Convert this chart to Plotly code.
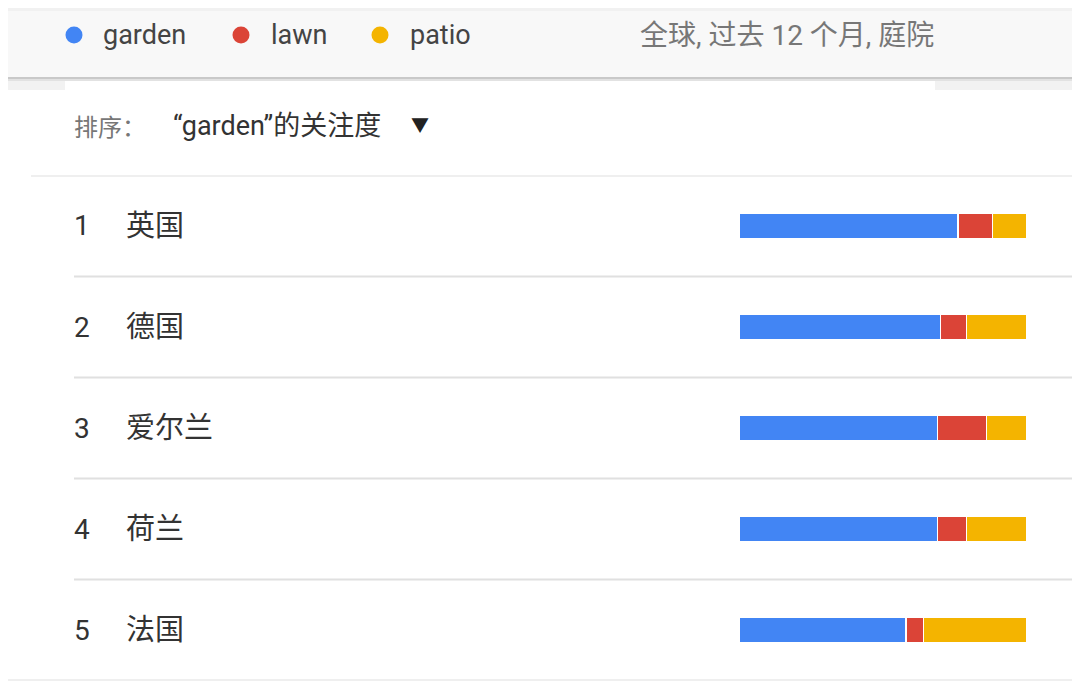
import plotly.graph_objects as go

# data (share of interest, % per region)
countries = ['英国', '德国', '爱尔兰', '荷兰', '法国']
ranks = ['1', '2', '3', '4', '5']
garden = [76, 70, 69, 69, 58]
lawn = [12, 9, 17, 10, 6]
patio = [12, 21, 14, 21, 36]

terms = ['garden', 'lawn', 'patio']
colors = ['#4285f4', '#db4437', '#f4b400']
subtitle = '全球, 过去 12 个月, 庭院'
sort_label = '排序：'
sort_value = '“garden”的关注度'

# the page body adds an 8px margin, so the figure is drawn 8px in
OFF = 8
W, H = 1080 - OFF, 693 - OFF
FONT = 'Roboto, "Noto Sans CJK SC", sans-serif'


def px(x):
    return (x - OFF) / W


def py(y):
    return 1 - (y - OFF) / H


data = []
for name, vals, col in zip(terms, [garden, lawn, patio], colors):
    data.append(go.Bar(x=vals, y=countries, orientation='h', name=name,
                       marker=dict(color=col, line=dict(color='white', width=1.5)),
                       width=0.26, showlegend=False, hoverinfo='x+name'))

shapes = []


def rect(x0, y0, x1, y1, color):
    shapes.append(dict(type='rect', xref='paper', yref='paper', layer='below',
                       x0=px(x0), x1=px(x1), y0=py(y0), y1=py(y1),
                       fillcolor=color, line=dict(width=0)))


# page background pieces
rect(0, 0, 1080, 78, '#f8f8f8')
rect(0, 0, 1080, 11, '#f1f1f1')
rect(0, 77, 1080, 79, '#c9c9c9')
rect(0, 79, 1080, 81, '#e2e2e2')
rect(65, 81, 935, 90, 'white')
rect(0, 90, 1072, 693, 'white')

# row separators
shapes.append(dict(type='line', xref='paper', yref='y', layer='below',
                   x0=px(31), x1=px(1072), y0=-0.5, y1=-0.5,
                   line=dict(color='#e0e0e0', width=2)))
for i in range(len(countries)):
    x0 = 0 if i == len(countries) - 1 else 74
    shapes.append(dict(type='line', xref='paper', yref='y', layer='below',
                       x0=px(x0), x1=px(1072), y0=i + 0.5, y1=i + 0.5,
                       line=dict(color='#e0e0e0', width=2)))

annotations = []

# legend: dots + labels
for term, col, dx, tx in zip(terms, colors, [74, 241, 380], [101, 269, 408]):
    shapes.append(dict(type='circle', xref='paper', yref='paper',
                       x0=px(dx - 8.5), x1=px(dx + 8.5),
                       y0=py(35 - 8.5), y1=py(35 + 8.5),
                       fillcolor=col, line=dict(width=0)))
    annotations.append(dict(text=term, x=px(tx), y=py(35), xref='paper',
                            yref='paper', xanchor='left', yanchor='middle',
                            showarrow=False,
                            font=dict(size=27, color='#444444', family=FONT)))

annotations.append(dict(text=subtitle, x=px(638), y=py(35), xref='paper',
                        yref='paper', xanchor='left', yanchor='middle',
                        showarrow=False,
                        font=dict(size=28, color='#777777', family=FONT)))

# sort header
annotations.append(dict(text=sort_label, x=px(72), y=py(128), xref='paper',
                        yref='paper', xanchor='left', yanchor='middle',
                        showarrow=False,
                        font=dict(size=24, color='#777777', family=FONT)))
annotations.append(dict(text=sort_value, x=px(171), y=py(126), xref='paper',
                        yref='paper', xanchor='left', yanchor='middle',
                        showarrow=False,
                        font=dict(size=27, color='#333333', family=FONT)))
annotations.append(dict(text='▼', x=px(420), y=py(125), xref='paper',
                        yref='paper', xanchor='center', yanchor='middle',
                        showarrow=False,
                        font=dict(size=18, color='#222222', family=FONT)))

# rank + region name per row
for r, c in zip(ranks, countries):
    annotations.append(dict(text=r, x=px(72), y=c, xref='paper', yref='y',
                            xanchor='left', yanchor='middle', showarrow=False,
                            font=dict(size=28, color='#333333', family=FONT)))
    annotations.append(dict(text=c, x=px(124), y=c, xref='paper', yref='y',
                            xanchor='left', yanchor='middle', showarrow=False,
                            font=dict(size=29, color='#333333', family=FONT)))

layout = go.Layout(
    width=W, height=H, barmode='stack',
    margin=dict(l=0, r=0, t=0, b=0),
    paper_bgcolor='#f2f2f2', plot_bgcolor='rgba(0,0,0,0)',
    xaxis=dict(range=[0, 100], domain=[px(739), px(1027)], visible=False,
               fixedrange=True),
    yaxis=dict(categoryorder='array', categoryarray=countries,
               range=[len(countries) - 0.5, -0.5],
               domain=[py(680.5), py(175.5)], visible=False, fixedrange=True),
    shapes=shapes, annotations=annotations, font=dict(family=FONT),
    hovermode='closest')

fig = go.Figure(data=data, layout=layout)
fig.write_html("out.html", config={'displayModeBar': False})
